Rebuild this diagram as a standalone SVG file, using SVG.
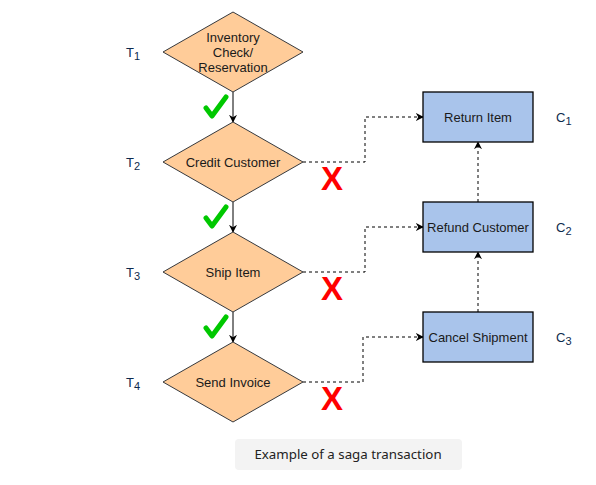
<svg xmlns="http://www.w3.org/2000/svg" width="596" height="485" viewBox="0 0 596 485">
<defs>
<style>
.dia{fill:#ffcc99;stroke:#36393d;stroke-width:1}
.box{fill:#a9c4eb;stroke:#000;stroke-width:1.3}
.lbl{font-family:"Liberation Sans",Arial,sans-serif;font-size:13px;fill:#1a1a1a;text-anchor:middle}
.tl{font-family:"Liberation Sans",Arial,sans-serif;font-size:13px;fill:#0d2a4d}
.sub{font-size:11px}
.flow{stroke:#000;stroke-width:1;fill:none;marker-end:url(#ah)}
.comp{stroke:#000;stroke-width:1;fill:none;stroke-dasharray:3 3;marker-end:url(#ah)}
.chk{stroke:#00c800;stroke-width:5;fill:none;stroke-linecap:round;stroke-linejoin:round}
.x{font-family:"Liberation Sans",Arial,sans-serif;font-weight:bold;font-size:33px;fill:#ff0000;text-anchor:middle}
</style>
<marker id="ah" viewBox="0 0 10 10" refX="9" refY="5" markerWidth="8" markerHeight="8" markerUnits="userSpaceOnUse" orient="auto">
<path d="M0,0 L10,5 L0,10 L3,5 Z" fill="#000"/>
</marker>
</defs>
<rect width="596" height="485" fill="#fff"/>

<g id="connectors">
<path class="flow" d="M233,92 V122"/>
<path class="flow" d="M233,202 V232"/>
<path class="flow" d="M233,312 V342"/>
<path class="comp" d="M303,162 H365 V117 H423"/>
<path class="comp" d="M303,272 H365 V227 H423"/>
<path class="comp" d="M303,382 H363 V337 H423"/>
<path class="comp" d="M478,312 V252"/>
<path class="comp" d="M478,202 V142"/>
</g>

<g id="t1">
<polygon class="dia" points="233,12 303,52 233,92 163,52"/>
<text class="lbl" x="233" y="42">Inventory</text>
<text class="lbl" x="233" y="57">Check/</text>
<text class="lbl" x="233" y="72">Reservation</text>
</g>
<g id="t2">
<polygon class="dia" points="233,122 303,162 233,202 163,162"/>
<text class="lbl" x="233" y="167">Credit Customer</text>
</g>
<g id="t3">
<polygon class="dia" points="233,232 303,272 233,312 163,272"/>
<text class="lbl" x="233" y="277">Ship Item</text>
</g>
<g id="t4">
<polygon class="dia" points="233,342 303,382 233,422 163,382"/>
<text class="lbl" x="233" y="387">Send Invoice</text>
</g>

<g id="c1">
<rect class="box" x="423" y="92" width="110" height="50"/>
<text class="lbl" x="478" y="122">Return Item</text>
</g>
<g id="c2">
<rect class="box" x="423" y="202" width="110" height="50"/>
<text class="lbl" x="478" y="232">Refund Customer</text>
</g>
<g id="c3">
<rect class="box" x="423" y="312" width="110" height="50"/>
<text class="lbl" x="478" y="342">Cancel Shipment</text>
</g>

<g id="labels">
<text class="tl" x="126" y="57">T<tspan class="sub" dy="3">1</tspan></text>
<text class="tl" x="126" y="167">T<tspan class="sub" dy="3">2</tspan></text>
<text class="tl" x="126" y="277">T<tspan class="sub" dy="3">3</tspan></text>
<text class="tl" x="126" y="387">T<tspan class="sub" dy="3">4</tspan></text>
<text class="tl" x="556" y="122">C<tspan class="sub" dy="3">1</tspan></text>
<text class="tl" x="556" y="232">C<tspan class="sub" dy="3">2</tspan></text>
<text class="tl" x="556" y="342">C<tspan class="sub" dy="3">3</tspan></text>
</g>

<g id="marks">
<path class="chk" d="M206,108 L212,116 L226,97"/>
<path class="chk" d="M206,218 L212,226 L226,207"/>
<path class="chk" d="M206,328 L212,336 L226,317"/>
<text class="x" x="332" y="190">X</text>
<text class="x" x="332" y="300">X</text>
<text class="x" x="332" y="410">X</text>
</g>

<g id="caption">
<rect x="235" y="439" width="227" height="31" rx="4" fill="#f3f3f3"/>
<text x="348" y="459" font-family="'Noto Sans','Open Sans',sans-serif" font-size="13.3" fill="#222" text-anchor="middle">Example of a saga transaction</text>
</g>
</svg>
